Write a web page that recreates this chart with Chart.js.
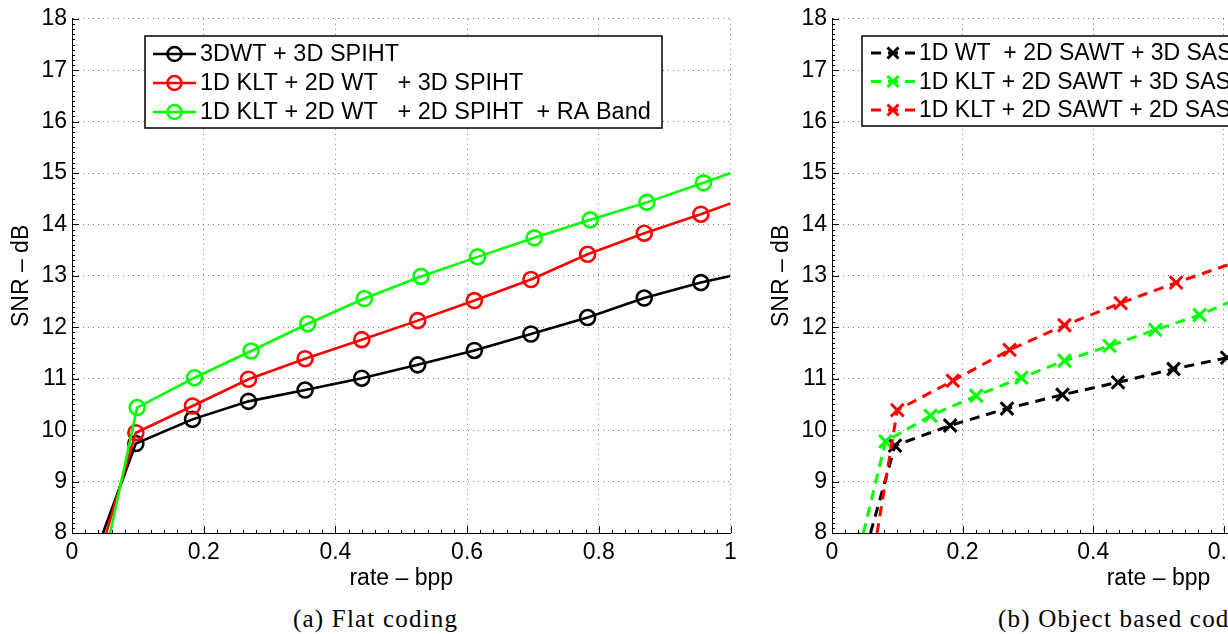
<!DOCTYPE html>
<html>
<head>
<meta charset="utf-8">
<script src="https://cdn.jsdelivr.net/npm/chart.js@4.4.0/dist/chart.umd.min.js"></script>
<style>
  html, body { margin: 0; padding: 0; background: #fff; }
  body { width: 1228px; height: 634px; overflow: hidden; position: relative; }
  .panel { position: absolute; top: 0; height: 600px; }
  .panel canvas { display: block; }
  #flatWrap { left: 0; width: 760px; }
  #objWrap { left: 760px; width: 740px; }
  .caption {
    position: absolute; top: 606px; white-space: nowrap;
    font-family: "Liberation Serif", "Times New Roman", serif;
    font-size: 25px; line-height: 25px; letter-spacing: 1.2px; color: #000;
  }
</style>
</head>
<body>
<div class="panel" id="flatWrap"><canvas id="flatChart" width="760" height="600"></canvas></div>
<div class="panel" id="objWrap"><canvas id="objChart" width="740" height="600"></canvas></div>
<div class="caption" style="left:293px">(a) Flat coding</div>
<div class="caption" style="left:998px">(b) Object based coding</div>

<script>
// ====== Data: (a) Flat coding ======
const flatRate   = [0.097, 0.183, 0.268, 0.354, 0.440, 0.525, 0.611, 0.697, 0.783, 0.869, 0.955];
const flatRateRA = [0.099, 0.186, 0.272, 0.358, 0.444, 0.530, 0.616, 0.702, 0.787, 0.873, 0.959];
const snr3dwt    = [9.74, 10.21, 10.56, 10.78, 11.01, 11.27, 11.55, 11.87, 12.19, 12.57, 12.87];
const snrKlt3d   = [9.95, 10.47, 10.99, 11.39, 11.76, 12.13, 12.52, 12.93, 13.42, 13.83, 14.20];
const snrKltRA   = [10.44, 11.02, 11.54, 12.07, 12.56, 12.99, 13.37, 13.74, 14.09, 14.43, 14.81];
// rate where each curve crosses 8 dB, and SNR where it leaves at rate 1
const flatStart  = [0.047, 0.052, 0.058];
const flatEnd    = [13.0, 14.41, 15.0];

// ====== Data: (b) Object based coding ======
const objRateWT   = [0.0965, 0.181, 0.268, 0.353, 0.438, 0.523, 0.605];
const snrObjWT    = [9.70, 10.09, 10.42, 10.69, 10.93, 11.19, 11.41];
const objRateK3   = [0.082, 0.151, 0.221, 0.290, 0.356, 0.425, 0.495, 0.563];
const snrObjK3    = [9.78, 10.28, 10.67, 11.02, 11.35, 11.64, 11.95, 12.24];
const objRateK2   = [0.100, 0.185, 0.272, 0.356, 0.442, 0.527];
const snrObjK2    = [10.39, 10.96, 11.56, 12.04, 12.47, 12.87];
const objStart    = [0.059, 0.048, 0.069];
// next points, just past the right edge of the picture
const objNext     = [null, {x: 0.632, y: 12.62}, {x: 0.612, y: 13.24}];

// ====== Axis ticks ======
const rateTicks = [0, 0.2, 0.4, 0.6, 0.8, 1];
const snrTicks  = [8, 9, 10, 11, 12, 13, 14, 15, 16, 17, 18];

const FONT = '"Liberation Sans", Arial, Helvetica, sans-serif';

function curve(start, rates, snrs, end) {
  const pts = [{x: start, y: snrTicks[0], edge: true}];
  rates.forEach((r, i) => pts.push({x: r, y: snrs[i]}));
  if (end) pts.push(Object.assign({edge: true}, end));
  return pts;
}

// legend drawn inside the plot, MATLAB style
const boxLegend = {
  id: 'boxLegend',
  afterDraw(chart, args, o) {
    const ctx = chart.ctx;
    ctx.save();
    ctx.fillStyle = '#fff';
    ctx.fillRect(o.left, o.top, o.width, o.height);
    ctx.strokeStyle = '#000';
    ctx.lineWidth = 1.5;
    ctx.strokeRect(o.left, o.top, o.width, o.height);
    chart.data.datasets.forEach((ds, i) => {
      const y = o.top + o.firstRow + i * o.rowGap;
      ctx.strokeStyle = ds.borderColor;
      ctx.lineWidth = ds.borderWidth;
      ctx.setLineDash(ds.borderDash || []);
      ctx.beginPath();
      ctx.moveTo(o.symbolX, y);
      ctx.lineTo(o.symbolX + o.symbolLen, y);
      ctx.stroke();
      ctx.setLineDash([]);
      const cx = o.symbolX + o.symbolLen / 2;
      ctx.lineWidth = ds.pointBorderWidth;
      ctx.beginPath();
      if (ds.pointStyle === 'circle') {
        ctx.arc(cx, y, o.markR, 0, Math.PI * 2);
      } else {
        ctx.moveTo(cx - o.markR, y - o.markR); ctx.lineTo(cx + o.markR, y + o.markR);
        ctx.moveTo(cx - o.markR, y + o.markR); ctx.lineTo(cx + o.markR, y - o.markR);
      }
      ctx.stroke();
      ctx.fillStyle = '#000';
      ctx.font = o.fontSize + 'px ' + FONT;
      ctx.textBaseline = 'middle';
      ctx.fillText(ds.label, o.textX, y + 1);
    });
    ctx.restore();
  }
};

// inward major / minor tick marks on the left and bottom axes
const innerTicks = {
  id: 'innerTicks',
  afterDatasetsDraw(chart) {
    const {ctx, chartArea: a, scales: {x, y}} = chart;
    ctx.save();
    ctx.strokeStyle = '#000';
    ctx.lineWidth = 1;
    ctx.beginPath();
    const nx = 50;
    for (let i = 0; i <= nx; i++) {
      const px = Math.round(x.getPixelForValue(x.min + (x.max - x.min) * i / nx)) + 0.5;
      const len = i % 10 === 0 ? 7 : 3;
      ctx.moveTo(px, a.bottom); ctx.lineTo(px, a.bottom - len);
    }
    const ny = 100;
    for (let i = 0; i <= ny; i++) {
      const py = Math.round(y.getPixelForValue(y.min + (y.max - y.min) * i / ny)) + 0.5;
      const len = i % 10 === 0 ? 7 : 3;
      ctx.moveTo(a.left, py); ctx.lineTo(a.left + len, py);
    }
    ctx.stroke();
    ctx.restore();
  }
};

function scalesFor() {
  return {
    x: {
      type: 'linear', min: rateTicks[0], max: rateTicks[rateTicks.length - 1],
      afterBuildTicks: s => { s.ticks = rateTicks.map(v => ({value: v})); },
      afterFit: s => { s.height = 67; },
      ticks: { padding: 6, color: '#000', font: {family: FONT, size: 23},
               callback: v => (v === 0 || v === 1) ? String(v) : v.toFixed(1) },
      grid: { color: 'rgba(0,0,0,0.5)', lineWidth: 1, drawTicks: false },
      border: { display: true, color: '#000', width: 1, dash: [1, 4] },
      title: { display: true, text: 'rate – bpp', color: '#000',
               font: {family: FONT, size: 23}, padding: {top: 0, bottom: 8} }
    },
    y: {
      type: 'linear', min: snrTicks[0], max: snrTicks[snrTicks.length - 1],
      afterBuildTicks: s => { s.ticks = snrTicks.map(v => ({value: v})); },
      afterFit: s => { s.width = 72; },
      ticks: { padding: 5, color: '#000', font: {family: FONT, size: 23} },
      grid: { color: 'rgba(0,0,0,0.5)', lineWidth: 1, drawTicks: false },
      border: { display: true, color: '#000', width: 1, dash: [1, 4] },
      title: { display: true, text: 'SNR – dB', color: '#000',
               font: {family: FONT, size: 23}, padding: {top: 8, bottom: 0} }
    }
  };
}

// ====== (a) Flat coding ======
const flatSet = (label, color, pts, order) => ({
  label, data: pts, borderColor: color, borderWidth: 2.6, order,
  pointStyle: 'circle', pointBorderColor: color, pointBackgroundColor: 'rgba(0,0,0,0)',
  pointBorderWidth: 2.6, pointRadius: c => c.raw && c.raw.edge ? 0 : 7.5, tension: 0
});

new Chart(document.getElementById('flatChart'), {
  type: 'line',
  data: {
    datasets: [
      flatSet('3DWT + 3D SPIHT', '#000000',
        curve(flatStart[0], flatRate, snr3dwt, {x: 1, y: flatEnd[0]}), 3),
      flatSet('1D KLT + 2D WT   + 3D SPIHT', '#ff0000',
        curve(flatStart[1], flatRate, snrKlt3d, {x: 1, y: flatEnd[1]}), 2),
      flatSet('1D KLT + 2D WT   + 2D SPIHT  + RA Band', '#00ff00',
        curve(flatStart[2], flatRateRA, snrKltRA, {x: 1, y: flatEnd[2]}), 1)
    ]
  },
  options: {
    responsive: false, animation: false,
    layout: { padding: {top: 17, right: 29.5, left: 0, bottom: 0} },
    scales: scalesFor(),
    plugins: {
      legend: { display: false }, tooltip: { enabled: false },
      boxLegend: { left: 145, top: 36, width: 517, height: 92, firstRow: 18, rowGap: 29,
                   symbolX: 153, symbolLen: 43, markR: 7, textX: 200, fontSize: 23.5 }
    }
  },
  plugins: [innerTicks, boxLegend]
});

// ====== (b) Object based coding ======
const objSet = (label, color, pts, order) => ({
  label, data: pts, borderColor: color, borderWidth: 3, borderDash: [10, 7], order,
  pointStyle: 'crossRot', pointBorderColor: color, pointBackgroundColor: color,
  pointBorderWidth: 3, pointRadius: c => c.raw && c.raw.edge ? 0 : 9, tension: 0
});

new Chart(document.getElementById('objChart'), {
  type: 'line',
  data: {
    datasets: [
      objSet('1D WT  + 2D SAWT + 3D SASPIHT', '#000000',
        curve(objStart[0], objRateWT, snrObjWT, objNext[0]), 3),
      objSet('1D KLT + 2D SAWT + 3D SASPIHT', '#00ff00',
        curve(objStart[1], objRateK3, snrObjK3, objNext[1]), 2),
      objSet('1D KLT + 2D SAWT + 2D SASPIHT + RA Band', '#ff0000',
        curve(objStart[2], objRateK2, snrObjK2, objNext[2]), 1)
    ]
  },
  options: {
    responsive: false, animation: false,
    layout: { padding: {top: 17, right: 15, left: 0, bottom: 0} },
    scales: scalesFor(),
    plugins: {
      legend: { display: false }, tooltip: { enabled: false },
      boxLegend: { left: 102, top: 36, width: 620, height: 90, firstRow: 17, rowGap: 28.5,
                   symbolX: 111, symbolLen: 44, markR: 5.5, textX: 159, fontSize: 23 }
    }
  },
  plugins: [innerTicks, boxLegend]
});
</script>
</body>
</html>
